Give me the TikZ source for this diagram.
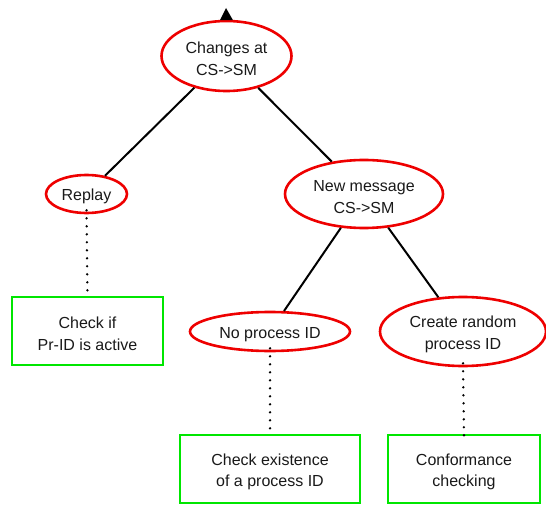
\documentclass[tikz,border=0pt]{standalone}
\usepackage{fontspec}
\setmainfont{Liberation Sans}
\usetikzlibrary{shapes.geometric}
\definecolor{ered}{RGB}{238,0,0}
\definecolor{bgreen}{RGB}{0,230,0}
\definecolor{txt}{RGB}{25,25,25}
\newcommand\upstrut{\rule{0pt}{17pt}}
\begin{document}
\begin{tikzpicture}[x=1pt,y=-1pt,
  every node/.style={font=\fontsize{16}{21.5}\selectfont, text=txt, align=center, inner sep=0pt},
  oval/.style={ellipse, draw=ered, line width=2.6pt},
  sbox/.style={rectangle, draw=bgreen, line width=2.8pt},
  link/.style={draw=black, line width=2pt},
  dots/.style={draw=black, line width=2.6pt, line cap=round, dash pattern=on 0pt off 8pt}
]
\useasboundingbox (0,0) rectangle (546,505);
\node[oval, minimum width=130pt, minimum height=70pt] (ch) at (226.5,56) {\upstrut Changes at\\CS->SM};
\node[oval, minimum width=81pt, minimum height=38pt] (rp) at (86.5,194) {\upstrut Replay};
\node[oval, minimum width=158pt, minimum height=68pt] (nm) at (364,194) {\upstrut New message\\CS->SM};
\node[oval, minimum width=160pt, minimum height=39pt] (np) at (270,331.5) {\upstrut No process ID};
\node[oval, minimum width=166pt, minimum height=69pt] (cr) at (463,331.5) {\upstrut Create random\\process ID};
\node[sbox, minimum width=151pt, minimum height=68pt] (ci) at (87.5,331) {\upstrut Check if\\Pr-ID is active};
\node[sbox, minimum width=180pt, minimum height=68pt] (ce) at (270,469) {\upstrut Check existence\\of a process ID};
\node[sbox, minimum width=152pt, minimum height=68pt] (cc) at (464,469) {\upstrut Conformance\\checking};
\coordinate (tip) at (226,8);
\fill[black] ([xshift=-6.5pt,yshift=-0.5pt]ch.north) -- (tip) -- ([xshift=6.5pt,yshift=-0.5pt]ch.north) -- cycle;
\draw[link] (ch) -- (rp);
\draw[link] (ch) -- (nm);
\draw[link] (nm) -- (np);
\draw[link] (nm) -- (cr);
\draw[dots] ([yshift=4pt]rp.south) -- ([yshift=-2pt]ci.north);
\draw[dots] ([yshift=4pt]np.south) -- ([yshift=-2pt]ce.north);
\draw[dots] ([yshift=4pt]cr.south) -- ([yshift=-2pt]cc.north);
\end{tikzpicture}
\end{document}
